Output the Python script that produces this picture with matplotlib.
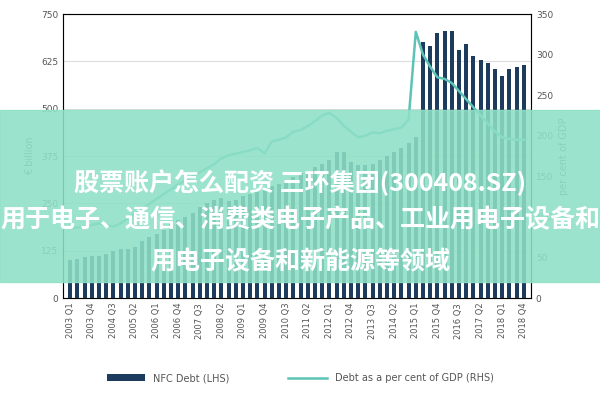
import matplotlib
matplotlib.use("Agg")
import matplotlib.pyplot as plt
from matplotlib.patches import Rectangle
from matplotlib import font_manager

quarters = [f"{y} Q{q}" for y in range(2003, 2019) for q in range(1, 5)]
nfc_debt = [100,102,108,112, 110,115,125,130, 130,135,150,160, 170,180,195,205,
            215,225,240,250, 260,265,255,260, 270,275,280,290, 295,300,310,320,
            330,335,345,355, 365,385,385,360, 350,350,355,365, 375,385,395,410,
            425, 675,665,700,705,705,655,670,640,628,620,605,585,605,610,615]
debt_gdp = [86,87,88,90, 92,90,88,92, 98,104,110,116, 122,128,134,140,
            145,150,155,160, 165,172,176,178, 180,182,185,178, 193,195,198,205,
            207,212,218,225, 228,222,212,205, 198,200,204,203, 206,208,210,220,
            328, 300,285,272,270,265,255,245,235,225,215,205,198,196,195,195]
tick_labels = quarters[::3]

cands = [f for f in font_manager.fontManager.ttflist if "Sans CJK" in f.name]
cjk = None
for pref in (lambda f: "SC" in f.name and "Bold" in f.fname,
             lambda f: "Bold" in f.fname,
             lambda f: "SC" in f.name,
             lambda f: True):
    m = [f for f in cands if pref(f)]
    if m:
        cjk = m[0].fname
        break

fig = plt.figure(figsize=(6, 4), dpi=100)
ax = fig.add_axes([0.105, 0.255, 0.78, 0.71])
x = list(range(len(quarters)))
ax.bar(x, nfc_debt, width=0.55, color="#1d3b5c", label="NFC Debt (LHS)", zorder=2)
ax.set_ylim(0, 750)
ax.set_yticks(range(0, 751, 125))
ax.set_xlim(-1, len(quarters))
ax.set_xticks(x[::3])
ax.set_xticklabels(tick_labels, rotation=90, fontsize=6, color="#555")
ax.tick_params(axis="y", labelsize=6.5, colors="#555", length=0)
ax.tick_params(axis="x", length=0)
ax.grid(axis="y", color="#ddd", zorder=0)
for s in ax.spines.values():
    s.set_color("#999")
ax.set_ylabel("€ billion", fontsize=7, color="#666")
ax2 = ax.twinx()
ax2.plot(x, debt_gdp, color="#5cc3b5", lw=1.8, label="Debt as a per cent of GDP (RHS)")
ax2.set_ylim(0, 350)
ax2.set_yticks(range(0, 351, 50))
ax2.tick_params(axis="y", labelsize=6.5, colors="#555", length=0)
ax2.set_ylabel("per cent of GDP", fontsize=7, color="#666")
h1, l1 = ax.get_legend_handles_labels()
h2, l2 = ax2.get_legend_handles_labels()
fig.legend(h1 + h2, l1 + l2, loc="lower center", ncol=2, frameon=False, fontsize=7,
           labelcolor="#555", bbox_to_anchor=(0.5, 0.02), handlelength=4, columnspacing=6)

fig.patches.append(Rectangle((0, 1 - 282/400), 1, 172/400, transform=fig.transFigure,
                             color="#8fe0c6", alpha=0.88, zorder=10))
kw = dict(ha="center", va="center", fontsize=18, color="white", weight="bold", zorder=11)
if cjk:
    kw["fontproperties"] = font_manager.FontProperties(fname=cjk, size=18, weight="bold")
fig.text(0.5, 1 - 183/400, "股票账户怎么配资 三环集团(300408.SZ)", **kw)
fig.text(0.5, 1 - 220/400, "用于电子、通信、消费类电子产品、工业用电子设备和", **kw)
fig.text(0.5, 1 - 262/400, "用电子设备和新能源等领域", **kw)
fig.savefig("out.png")
